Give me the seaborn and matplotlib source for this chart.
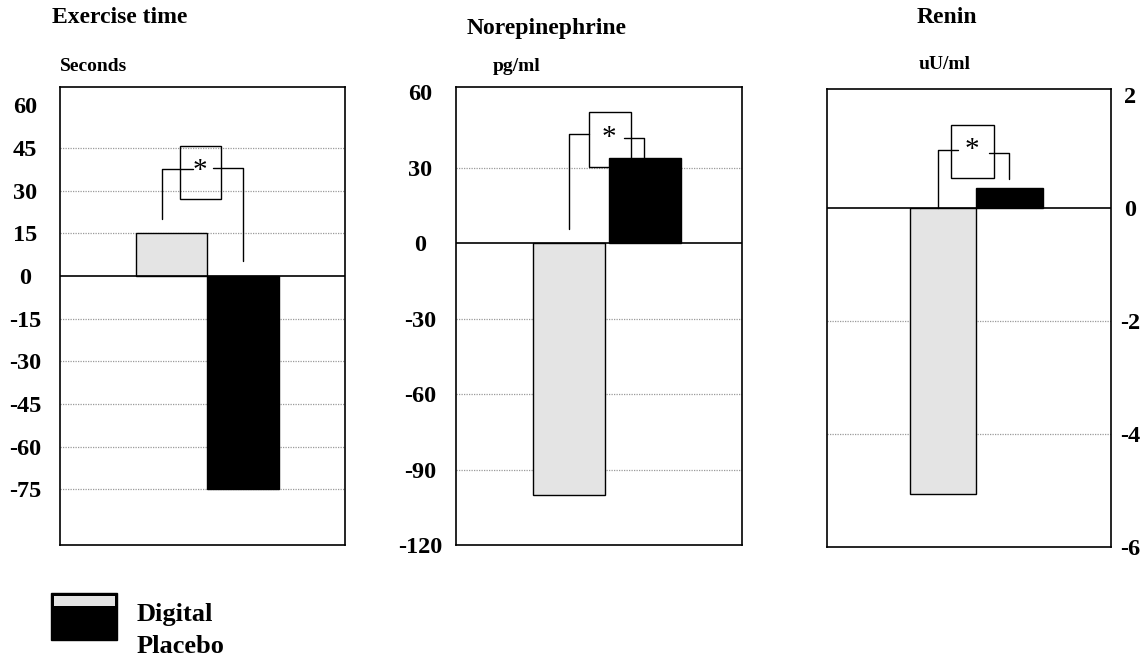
import matplotlib
matplotlib.use("Agg")
import matplotlib.pyplot as plt
from matplotlib.patches import Rectangle
import pandas as pd
import seaborn as sns

# ---------------- data ----------------
groups = ["Digital", "Placebo"]
exercise_time = [15, -75]          # seconds
norepinephrine = [-100, 34]        # pg/ml
renin = [-5.05, 0.35]              # uU/ml

titles = ["Exercise time", "Norepinephrine", "Renin"]
units = ["Seconds", "pg/ml", "uU/ml"]
exercise_ticks = [60, 45, 30, 15, 0, -15, -30, -45, -60, -75]
norepi_ticks = [60, 30, 0, -30, -60, -90, -120]
renin_ticks = [2, 0, -2, -4, -6]
legend_labels = ["Digital", "Placebo"]
star_label = "*"

colors = {"Digital": "#e4e4e4", "Placebo": "#000000"}

# ---------------- style ----------------
sns.set_theme(style="white")
plt.rcParams["font.family"] = ["Liberation Serif", "DejaVu Serif"]
plt.rcParams["text.color"] = "black"
plt.rcParams["axes.labelcolor"] = "black"
plt.rcParams["xtick.color"] = "black"
plt.rcParams["ytick.color"] = "black"

W, H = 1146, 658
fig = plt.figure(figsize=(W / 100, H / 100), dpi=100)


def px_axes(x0, y0, x1, y1):
    return fig.add_axes([x0 / W, 1 - y1 / H, (x1 - x0) / W, (y1 - y0) / H])


def ftext(x, y, s, **kw):
    fig.text(x / W, 1 - y / H, s, color="black", **kw)


panels = [
    dict(rect=(60.3, 86.7, 344.7, 545), values=exercise_time, ticks=exercise_ticks,
         grid=[t for t in exercise_ticks[1:] if t != 0],
         ylim=(-94.5, 66.5), xlim=(-1.554, 2.418), width=1.0, side="left", pad=25.4,
         lleg=(-0.13, 19.9, 37.6, 0.303), rleg=(0.582, 1.0, 38.0, 5.4),
         box=(0.117, 0.694, 27.2, 45.7), star=(0.397, 37.0)),
    dict(rect=(456.3, 87.3, 741.7, 545), values=norepinephrine, ticks=norepi_ticks,
         grid=[t for t in norepi_ticks[1:-1] if t != 0],
         ylim=(-120, 62), xlim=(-1.468, 2.261), width=0.94, side="left", pad=26.1,
         lleg=(0.0, 5.5, 43.4, 0.262), rleg=(0.723, 0.988, 41.7, norepinephrine[1]),
         box=(0.262, 0.818, 30.4, 52.0), star=(0.523, 41.8)),
    dict(rect=(826.7, 89.3, 1110.7, 547.3), values=renin, ticks=renin_ticks,
         grid=[t for t in renin_ticks[1:-1] if t != 0],
         ylim=(-6, 2.1), xlim=(-1.757, 2.523), width=1.0, side="right", pad=13.9,
         lleg=(-0.075, 0.0, 1.02, 0.226), rleg=(0.689, 0.99, 0.98, 0.52),
         box=(0.116, 0.764, 0.53, 1.46), star=(0.428, 1.03)),
]

for p in panels:
    ax = px_axes(*p["rect"])
    df = pd.DataFrame({"group": groups, "value": p["values"]})
    sns.barplot(data=df, x="group", y="value", hue="group", order=groups,
                hue_order=groups, palette=colors, width=p["width"],
                edgecolor="black", linewidth=1.0, legend=False, ax=ax, zorder=3)
    ax.set_xlim(*p["xlim"])
    ax.set_ylim(*p["ylim"])
    ax.set_xlabel("")
    ax.set_ylabel("")
    ax.set_xticks([])
    ax.set_yticks(p["ticks"])
    ax.set_yticklabels([str(t) for t in p["ticks"]])
    if p["side"] == "right":
        ax.yaxis.tick_right()
    ax.tick_params(axis="y", length=0, pad=p["pad"], labelsize=17.5, labelcolor="black")
    for lab in ax.get_yticklabels():
        lab.set_fontweight("bold")
        lab.set_horizontalalignment("center")
    for sp in ax.spines.values():
        sp.set_visible(True)
        sp.set_color("black")
        sp.set_linewidth(1.2)
    for g in p["grid"]:
        ax.axhline(g, color="#9a9a9a", lw=0.9, ls=(0, (1, 1)), zorder=1)
    ax.axhline(0, color="black", lw=1.2, zorder=4)

    # significance bracket
    lx, ly0, ly1, lhx = p["lleg"]
    ax.plot([lx, lx, lhx], [ly0, ly1, ly1], color="black", lw=1.0, zorder=5)
    rhx, rx, ry, ry1 = p["rleg"]
    ax.plot([rhx, rx, rx], [ry, ry, ry1], color="black", lw=1.0, zorder=5)
    bx0, bx1, by0, by1 = p["box"]
    ax.add_patch(Rectangle((bx0, by0), bx1 - bx0, by1 - by0, fill=False,
                           edgecolor="black", lw=1.0, zorder=5))
    ax.text(p["star"][0], p["star"][1], star_label, ha="center", va="center",
            fontsize=21, color="black", zorder=6)

# titles and units
title_pos = [(52, 23), (467, 34), (917, 23)]
unit_pos = [(60, 71), (492.7, 71), (919, 69)]
for t, (x, y) in zip(titles, title_pos):
    ftext(x, y, t, ha="left", va="baseline", fontsize=17, fontweight="bold")
for u, (x, y) in zip(units, unit_pos):
    ftext(x, y, u, ha="left", va="baseline", fontsize=14, fontweight="bold")

# legend: combined swatch
fig.patches.append(Rectangle((51 / W, 1 - 640 / H), 66.3 / W, 46.7 / H,
                             transform=fig.transFigure, facecolor=colors["Placebo"],
                             edgecolor="black", lw=1))
fig.patches.append(Rectangle((53.5 / W, 1 - 606 / H), 61.5 / W, 10 / H,
                             transform=fig.transFigure, facecolor=colors["Digital"],
                             edgecolor="none"))
ftext(136.7, 621.5, legend_labels[0], ha="left", va="baseline", fontsize=19, fontweight="bold")
ftext(136.7, 653, legend_labels[1], ha="left", va="baseline", fontsize=19, fontweight="bold")

fig.savefig("out.png", dpi=100, facecolor="white")
